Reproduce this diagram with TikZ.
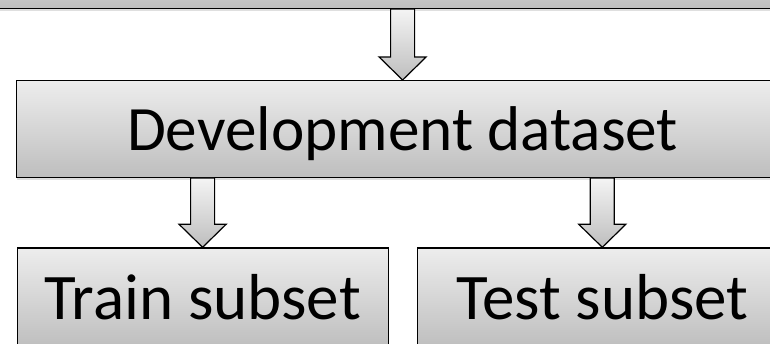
\documentclass[tikz,border=0pt]{standalone}
\usepackage{fontspec}
\setmainfont{Carlito}
\usepackage{tikz}
\usetikzlibrary{calc,shadows}

\definecolor{boxtop}{HTML}{EDEDED}
\definecolor{boxbottom}{HTML}{BEBEBE}

% block arrow: #1 = top of shaft, #2 = tip
\newcommand{\flowarrow}[2]{%
  \draw[arrowbody] let \p1=(#1), \p2=(#2) in
    (\x2-12pt,\y1) -- (\x2+12pt,\y1) -- (\x2+12pt,\y2+23pt)
    -- (\x2+23.5pt,\y2+23pt) -- (\x2,\y2) -- (\x2-23.5pt,\y2+23pt)
    -- (\x2-12pt,\y2+23pt) -- cycle;}

\begin{document}
\begin{tikzpicture}[x=1pt,y=-1pt,
  box/.style={draw=black, line width=1.2pt, top color=boxtop, bottom color=boxbottom,
    drop shadow={shadow xshift=0pt, shadow yshift=-2.5pt, opacity=.25},
    text height=43.4pt, text depth=0pt, inner sep=0pt},
  arrowbody/.style={draw=black, line width=1.2pt, line join=miter,
    top color=boxtop!60!white, bottom color=boxbottom}]
\useasboundingbox (0,0) rectangle (770,343);

% =========================================================
% Boxes
% =========================================================
\node[box, minimum width=840pt, minimum height=70pt, anchor=south] (source) at (401.5,9) {};

\node[box, font=\fontsize{63.2}{70}\selectfont, minimum width=772pt, minimum height=96.7pt,
  anchor=north west] (dev) at (16,80) {Development dataset};

\node[box, font=\fontsize{65}{72}\selectfont, minimum width=371pt, minimum height=100pt,
  anchor=north west] (train) at (16.5,247.3) {Train subset};

\node[box, font=\fontsize{65}{72}\selectfont, minimum width=370pt, minimum height=100pt,
  anchor=north west] (test) at (416.7,247.3) {Test subset};

% =========================================================
% Arrows
% =========================================================
\flowarrow{source.south}{dev.north}
\flowarrow{train.north |- dev.south}{train.north}
\flowarrow{test.north |- dev.south}{test.north}

\end{tikzpicture}
\end{document}
